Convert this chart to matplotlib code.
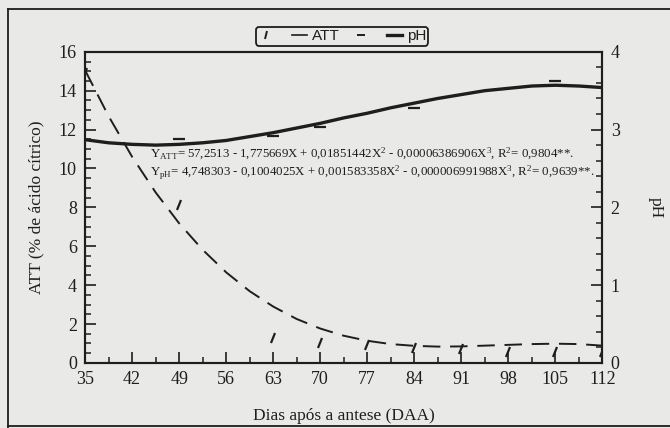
import matplotlib
matplotlib.use("Agg")
import matplotlib.pyplot as plt
from matplotlib.lines import Line2D
from matplotlib.markers import MarkerStyle
from matplotlib.transforms import Affine2D
from matplotlib.ticker import MultipleLocator

# fitted curves, every 3.5 days
days = [35, 38.5, 42, 45.5, 49, 52.5, 56, 59.5, 63, 66.5, 70, 73.5, 77,
        80.5, 84, 87.5, 91, 94.5, 98, 101.5, 105, 108.5, 112]
att_fit = [15.05, 12.69, 10.60, 8.77, 7.18, 5.82, 4.66, 3.69, 2.90, 2.26,
           1.77, 1.40, 1.14, 0.97, 0.88, 0.84, 0.85, 0.89, 0.93, 0.97,
           0.99, 0.97, 0.89]
ph_fit = [2.87, 2.83, 2.81, 2.80, 2.81, 2.83, 2.86, 2.91, 2.96, 3.02,
          3.08, 3.15, 3.21, 3.28, 3.34, 3.40, 3.45, 3.50, 3.53, 3.56,
          3.57, 3.56, 3.54]

# observed points that are still visible on the scan
att_days = [35, 49, 63, 70, 77, 84, 91, 98, 105, 112]
att_obs = [14.9, 8.1, 1.3, 1.0, 0.93, 0.77, 0.72, 0.57, 0.57, 0.55]
ph_days = [49, 63, 70, 84, 105]
ph_obs = [2.88, 2.92, 3.03, 3.28, 3.63]

eq_att = ("Y$_{ATT}$= 57,2513 - 1,775669X + 0,01851442X$^2$ - 0,00006386906X$^3$,"
          " R$^2$= 0,9804**.")
eq_ph = ("Y$_{pH}$= 4,748303 - 0,1004025X + 0,001583358X$^2$ - 0,000006991988X$^3$,"
         " R$^2$= 0,9639**.")

paper = "#e9e9e7"
ink = "#1e1e1e"

plt.rcParams["font.family"] = ["Liberation Serif", "DejaVu Serif"]
plt.rcParams["mathtext.default"] = "regular"

fig = plt.figure(figsize=(6.7, 4.28), dpi=100, facecolor=paper)
ax = fig.add_axes([0.127, 0.152, 0.772, 0.727])
ax.set_facecolor(paper)
ax2 = ax.twinx()

# ATT: long dashed curve on the left axis
ax.plot(days, att_fit, color=ink, lw=1.4, ls=(0, (9, 5)))
tilt = MarkerStyle("|", transform=Affine2D().rotate_deg(-18))
ax.plot(att_days, att_obs, ls="none", marker=tilt, ms=7, mew=1.6, color=ink)

# pH: thick solid curve on the right axis
ax2.plot(days, ph_fit, color=ink, lw=2.4)
ax2.plot(ph_days, ph_obs, ls="none", marker="_", ms=8, mew=1.6, color=ink)

ax.set_xlim(35, 112)
ax.set_ylim(0, 16)
ax2.set_ylim(0, 4)

ax.xaxis.set_major_locator(MultipleLocator(7))
ax.xaxis.set_minor_locator(MultipleLocator(3.5))
ax.yaxis.set_major_locator(MultipleLocator(2))
ax.yaxis.set_minor_locator(MultipleLocator(0.5))
ax2.yaxis.set_major_locator(MultipleLocator(1))
ax2.yaxis.set_minor_locator(MultipleLocator(0.2))

for a in (ax, ax2):
    a.tick_params(which="major", direction="in", length=8, width=1.2,
                  colors=ink, labelsize=13, pad=6)
    a.tick_params(which="minor", direction="in", length=4, width=1.1, colors=ink)
    for s in a.spines.values():
        s.set_linewidth(1.5)
        s.set_color(ink)
ax.tick_params(top=False, right=False, which="both")
ax2.tick_params(axis="y", left=False, which="both")

ax.set_xlabel("Dias após a antese (DAA)", fontsize=12.5, color=ink, labelpad=14)
ax.set_ylabel("ATT (% de ácido cítrico)", fontsize=12.5, color=ink, labelpad=10)
ax2.set_ylabel("pH", fontsize=12.5, color=ink, rotation=270, labelpad=32)

ax.text(44.7, 10.75, eq_att, fontsize=9.3, color=ink, va="center")
ax.text(44.7, 9.8, eq_ph, fontsize=9.3, color=ink, va="center")

handles = [
    Line2D([], [], ls="none", marker=tilt, ms=6, mew=1.4, color=ink),
    Line2D([], [], color=ink, lw=1.2),
    Line2D([], [], ls="none", marker="_", ms=6, mew=1.4, color=ink),
    Line2D([], [], color=ink, lw=2.4),
]
leg = ax.legend(handles, ["", "ATT", "", "pH"], ncol=4, loc="center",
                bbox_to_anchor=(0.497, 1.05), frameon=True, fancybox=True,
                handlelength=1.0, handletextpad=0.3, columnspacing=0.9,
                borderpad=0.15, prop={"family": "Liberation Sans", "size": 11})
leg.get_frame().set_facecolor(paper)
leg.get_frame().set_edgecolor(ink)
leg.get_frame().set_linewidth(1.3)
leg.get_frame().set_alpha(1)
for t in leg.get_texts():
    t.set_color(ink)

# page frame visible on the scan
fig.add_artist(Line2D([0.012, 0.012], [0.0, 0.979], color=ink, lw=1.3))
fig.add_artist(Line2D([0.012, 1.0], [0.979, 0.979], color=ink, lw=1.3))
fig.add_artist(Line2D([0.012, 1.0], [0.004, 0.004], color=ink, lw=1.3))

fig.savefig("out.png", dpi=100, facecolor=paper)
